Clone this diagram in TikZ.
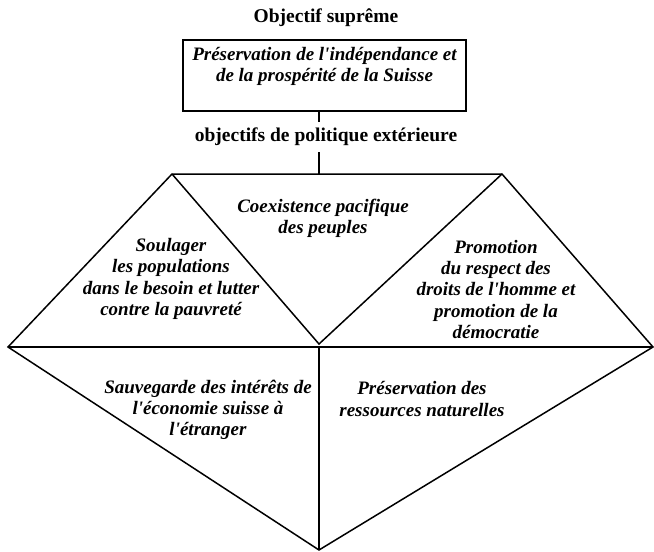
\documentclass[tikz,border=0pt]{standalone}
\usepackage{fontspec}
\setmainfont{Liberation Serif}[Ligatures=TeXOff]
\usetikzlibrary{positioning}

\begin{document}
\begin{tikzpicture}[line join=miter,x=1pt,y=-1pt,
  trait/.style={color=black,line width=1.5pt},
  titre/.style={font=\fontsize{19.5}{22}\selectfont\bfseries,inner xsep=0pt},
  ziel/.style={font=\fontsize{19}{21.3}\selectfont\bfseries\itshape,align=center,inner sep=0pt}]
\useasboundingbox (0,0) rectangle (654,552);
% sommets du losange
\coordinate (gh) at (172,174);
\coordinate (dh) at (502,174);
\coordinate (hm) at (319,174);
\coordinate (cm) at (319,344);
\coordinate (gc) at (8,347);
\coordinate (dc) at (653,347);
\coordinate (mc) at (319,347);
\coordinate (bas) at (319,550);
% objectif supreme
\node[titre,inner ysep=0pt] (sup) at (326,18) {Objectif suprême};
\node[draw,line width=2pt,minimum width=283,minimum height=71,inner sep=0pt] (cadre) at (324.5,75.5) {};
\node[ziel] (but) at (324.5,66.5) {Préservation de l'indépendance et\\de la prospérité de la Suisse};
\node[titre,inner ysep=6pt] (obj) at (326,137) {objectifs de politique extérieure};
\draw[trait] (cadre.south -| hm) -- (obj.north -| hm);
\draw[trait] (obj.south -| hm) -- (hm);
% losange
\draw[trait] (gc) -- (gh) -- (dh) -- (dc) -- (bas) -- cycle;
\draw[trait] (gh) -- (cm) -- (dh);
\draw[trait] (gc) -- (dc);
\draw[trait] (mc) -- (bas);
% textes
\node[ziel] (coex) at (323,218.5) {Coexistence pacifique\\des peuples};
\node[ziel] (soul) at (171,279) {Soulager\\les populations\\dans le besoin et lutter\\contre la pauvreté};
\node[ziel] (promo) at (496,289.5) {Promotion\\du respect des\\droits de l'homme et\\promotion de la\\démocratie};
\node[ziel] (sauv) at (208,410) {Sauvegarde des intérêts de\\l'économie suisse à\\l'étranger};
\node[ziel] (pres) at (422,399) {Préservation des\\ressources naturelles};
\end{tikzpicture}
\end{document}
